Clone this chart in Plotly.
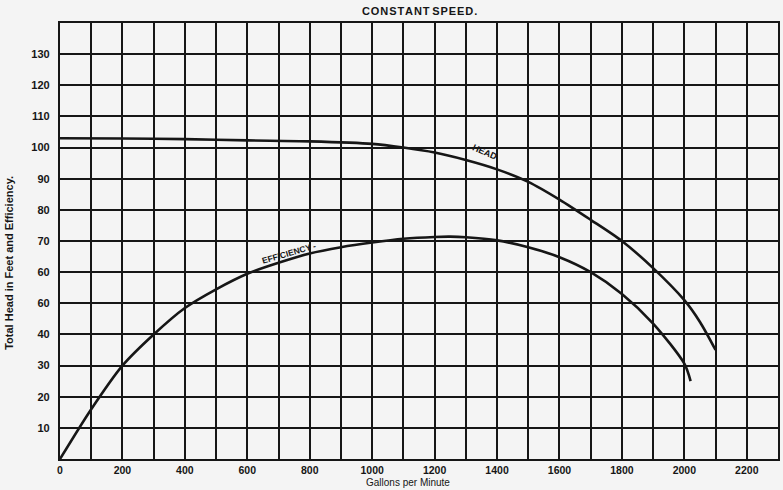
import plotly.graph_objects as go

# Pump characteristic at constant speed
gallons_head = [0, 200, 400, 600, 800, 1000, 1100, 1200, 1300, 1400, 1500,
                1600, 1700, 1800, 1900, 2000, 2050, 2100]
head_ft = [103, 102.9, 102.7, 102.3, 102, 101.2, 100, 98.4, 96, 93, 89,
           83.3, 76.8, 70, 61.3, 51, 44, 35]

gallons_eff = [0, 100, 200, 300, 400, 500, 600, 700, 800, 900, 1000, 1100,
               1200, 1250, 1300, 1400, 1500, 1600, 1700, 1800, 1900, 2000, 2020]
efficiency = [0, 16, 30, 40, 48.5, 54.5, 59.5, 63, 66, 68, 69.5, 70.7,
              71.3, 71.4, 71.2, 70.2, 68, 64.8, 60, 53, 43.5, 30.6, 25]

x_tick_vals = [0, 200, 400, 600, 800, 1000, 1200, 1400, 1600, 1800, 2000, 2200]
x_tick_text = ["0", "200", "400", "600", "800", "1000", "1200", "1400",
               "1600", "1800", "2000", "2200"]
y_tick_vals = [10, 20, 30, 40, 50, 60, 70, 80, 90, 100, 110, 120, 130]
y_tick_text = ["10", "20", "30", "40", "60", "60", "70", "80", "90",
               "100", "110", "120", "130"]

INK = "#161616"
PAPER = "#f4f4f4"
FONT = "Liberation Sans"

fig = go.Figure()
fig.add_trace(go.Scatter(x=gallons_head, y=head_ft, mode="lines",
                         line=dict(color=INK, width=2.6, shape="spline", smoothing=0.8),
                         hoverinfo="skip", showlegend=False))
fig.add_trace(go.Scatter(x=gallons_eff, y=efficiency, mode="lines",
                         line=dict(color=INK, width=2.6, shape="spline", smoothing=0.8),
                         hoverinfo="skip", showlegend=False))

fig.add_annotation(x=1360, y=98.6, xref="x", yref="y", text="<b>HEAD</b>",
                   showarrow=False, textangle=24,
                   font=dict(family=FONT, size=9, color=INK))
fig.add_annotation(x=735, y=66.3, xref="x", yref="y", text="<b>EFFICIENCY -</b>",
                   showarrow=False, textangle=-16,
                   font=dict(family=FONT, size=8.5, color=INK))

fig.add_annotation(x=0.5, y=1.0, xref="paper", yref="paper", yanchor="bottom",
                   yshift=4, text="<b>C O N S T A N T   S P E E D .</b>".replace(" ", "&#8202;"),
                   showarrow=False,
                   font=dict(family=FONT, size=11, color=INK))
fig.add_annotation(x=0.484, y=0, xref="paper", yref="paper", yanchor="bottom",
                   yshift=-31, text="Gallons per Minute", showarrow=False,
                   font=dict(family=FONT, size=10, color=INK))
fig.add_annotation(x=0, y=0.45, xref="paper", yref="paper", xanchor="center",
                   xshift=-51, text="<b>Total Head in Feet and Efficiency.</b>",
                   showarrow=False, textangle=-90,
                   font=dict(family=FONT, size=11, color=INK))

fig.update_xaxes(range=[0, 2300], tickvals=x_tick_vals,
                 ticktext=["<b>%s</b>" % t for t in x_tick_text],
                 showgrid=True, gridcolor=INK, gridwidth=1.6,
                 minor=dict(dtick=100, tick0=0, showgrid=True, gridcolor=INK, gridwidth=1.6),
                 showline=True, linecolor=INK, linewidth=2.2, mirror=True,
                 ticks="", zeroline=False, ticklabelstandoff=0,
                 tickfont=dict(family=FONT, size=10.5, color=INK))
fig.update_yaxes(range=[0, 140], tickvals=y_tick_vals,
                 ticktext=["<b>%s</b>" % t for t in y_tick_text],
                 showgrid=True, gridcolor=INK, gridwidth=1.6,
                 showline=True, linecolor=INK, linewidth=2.2, mirror=True,
                 ticks="", zeroline=False, ticklabelstandoff=6,
                 tickfont=dict(family=FONT, size=11, color=INK))

fig.update_layout(width=783, height=490,
                  margin=dict(l=60, r=3, t=23, b=31),
                  paper_bgcolor=PAPER, plot_bgcolor=PAPER,
                  font=dict(family=FONT, color=INK))

fig.write_html("out.html")
